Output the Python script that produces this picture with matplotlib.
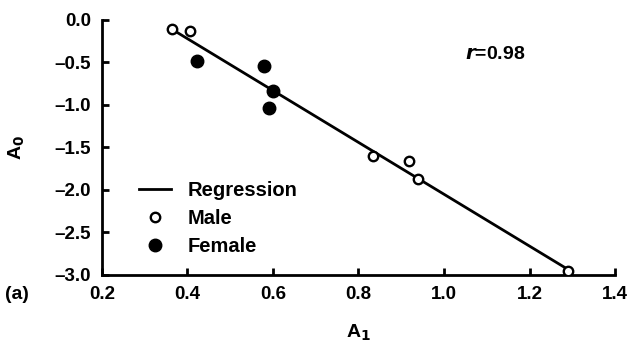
import numpy as np
import matplotlib
matplotlib.use("Agg")
import matplotlib.pyplot as plt

plt.rcParams['font.family'] = ['Liberation Sans', 'DejaVu Sans']
plt.rcParams['font.weight'] = 'bold'

# data
male_a1 = [0.365, 0.407, 0.833, 0.919, 0.940, 1.291]
male_a0 = [-0.11, -0.13, -1.60, -1.655, -1.87, -2.95]
female_a1 = [0.423, 0.579, 0.601, 0.591]
female_a0 = [-0.48, -0.54, -0.835, -1.04]
reg_x = [0.365, 1.291]
reg_slope = -3.05
reg_icept = 1.0

fig = plt.figure(figsize=(6.33, 3.47), dpi=100)
ax = fig.add_axes([0.161, 0.2075, 0.8106, 0.735])

rx = np.array(reg_x)
ax.plot(rx, reg_icept + reg_slope * rx, color='black', lw=2, label='Regression', zorder=2)
ax.plot(male_a1, male_a0, 'o', ms=6.8, mfc='white', mec='black', mew=1.7, label='Male', zorder=3)
ax.plot(female_a1, female_a0, 'o', ms=9, color='black', label='Female', zorder=3)

ax.set_xlim(0.2, 1.4)
ax.set_ylim(-3.0, 0.0)
ax.set_xticks(np.arange(0.2, 1.41, 0.2))
ax.set_yticks(np.arange(-3.0, 0.01, 0.5))
ax.xaxis.set_major_formatter(matplotlib.ticker.FormatStrFormatter('%.1f'))
ax.yaxis.set_major_formatter(matplotlib.ticker.FuncFormatter(
    lambda v, p: ('%.1f' % abs(v)) if abs(v) < 1e-9 else ('%.1f' % v).replace('-', '\u2013')))
for s in ['top', 'right']:
    ax.spines[s].set_visible(False)
for s in ['left', 'bottom']:
    ax.spines[s].set_linewidth(2)
ax.tick_params(direction='in', length=5, width=2, labelsize=13.5, pad=8)
for lab in ax.get_xticklabels() + ax.get_yticklabels():
    lab.set_fontweight('bold')

ax.set_xlabel('A$_\\mathbf{1}$', fontsize=14, fontweight='bold', labelpad=14)
ax.set_ylabel('A$_\\mathbf{0}$', fontsize=14, fontweight='bold', labelpad=20)
ax.text(1.12, -0.41, '$\\it{r}$=0.98', fontsize=14, fontweight='bold', ha='center', va='center')
fig.text(0.008, 0.15, '(a)', fontsize=14, fontweight='bold', va='center')

ax.legend(loc='lower left', bbox_to_anchor=(0.045, 0.02), frameon=False, fontsize=14.5,
          handlelength=1.6, handletextpad=0.8, labelspacing=0.45, borderpad=0.2)

fig.savefig('out.png', dpi=100)
